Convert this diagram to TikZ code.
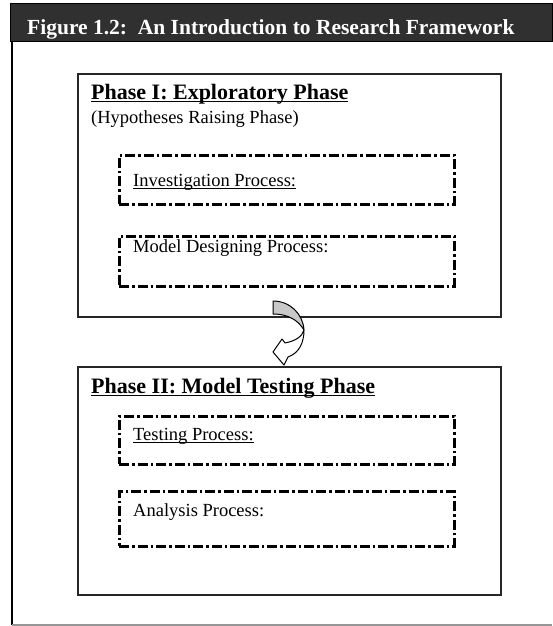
\documentclass[tikz,border=0pt]{standalone}
\usepackage{fontspec}
\setmainfont{Liberation Serif}
\usetikzlibrary{calc, positioning}
\definecolor{barfill}{RGB}{48,48,48}
\definecolor{framegray}{RGB}{150,150,150}
\definecolor{arrowgray}{RGB}{200,200,200}
\newcommand{\undertext}[1]{\setbox0\hbox{#1}\rlap{\rule[-3pt]{\wd0}{1.3pt}}\box0}
\begin{document}
\begin{tikzpicture}[x=1pt,y=-1pt,
  phasebox/.style={draw=black!85, line width=1.5pt, inner sep=0pt, anchor=north west},
  processbox/.style={draw=black, line width=2.6pt, dash pattern=on 10pt off 3pt on 2.5pt off 3pt, inner sep=0pt, anchor=north west, minimum width=335pt},
  phasetitle/.style={anchor=base west, inner sep=0pt, font=\fontsize{22}{25}\selectfont\bfseries},
  bodytext/.style={anchor=base west, inner sep=0pt, font=\fontsize{18.5}{21}\selectfont}]
\def\xbox{77}
\def\xproc{118}
\def\xtext{133}
\useasboundingbox (0,0) rectangle (552,626);
\fill[white] (0,0) rectangle (552,626);
\draw[black, line width=1.5pt] (12,41) -- (12,625);
\draw[framegray, line width=1.2pt] (12,625) -- (552,625);
\node[fill=barfill, draw=black, line width=1pt, anchor=north west, minimum width=542pt, minimum height=38pt, inner sep=0pt] (bar) at (10,3) {};
\node[anchor=base west, inner sep=0pt, text=white, font=\fontsize{21.5}{24}\selectfont\bfseries] (bartitle) at (27,35) {Figure 1.2:\ \ An Introduction to Research Framework};
\node[phasebox, minimum width=423pt, minimum height=243pt] (phaseone) at (\xbox,73) {};
\node[phasebox, minimum width=423pt, minimum height=228pt] (phasetwo) at (\xbox,366) {};
\node[processbox, minimum height=49pt] (investigation) at (\xproc,154) {};
\node[processbox, minimum height=50pt] (model) at (\xproc,235) {};
\node[processbox, minimum height=48pt] (testing) at (\xproc,415) {};
\node[processbox, minimum height=55pt] (analysis) at (\xproc,490) {};
\node[phasetitle] (phaseonetitle) at (91,99) {\undertext{Phase I: Exploratory Phase}};
\node[bodytext] (phaseonesub) at (91,123) {(Hypotheses Raising Phase)};
\node[bodytext] (investigationtext) at (\xtext,186) {\undertext{Investigation Process:}};
\node[bodytext] (modeltext) at (\xtext,252) {Model Designing Process:};
\node[phasetitle] (phasetwotitle) at (91,393) {\undertext{Phase II: Model Testing Phase}};
\node[bodytext] (testingtext) at (\xtext,440) {\undertext{Testing Process:}};
\node[bodytext] (analysistext) at (\xtext,516) {Analysis Process:};
\coordinate (turn) at (273,301);
\begin{scope}[shift={(turn)}, line width=1pt, line join=round]
\filldraw[fill=arrowgray, draw=black] (0,0) .. controls (17,0) and (30,13) .. (31,29) .. controls (25,19) and (15,13) .. (0,13) -- cycle;
\filldraw[fill=white, draw=black] (31,29) .. controls (31,42) and (26,52) .. (15,56) -- (11,64) -- (0,51) -- (9,38) -- (12,42) .. controls (22,40) and (29,36) .. (31,29) -- cycle;
\end{scope}
\end{tikzpicture}
\end{document}
